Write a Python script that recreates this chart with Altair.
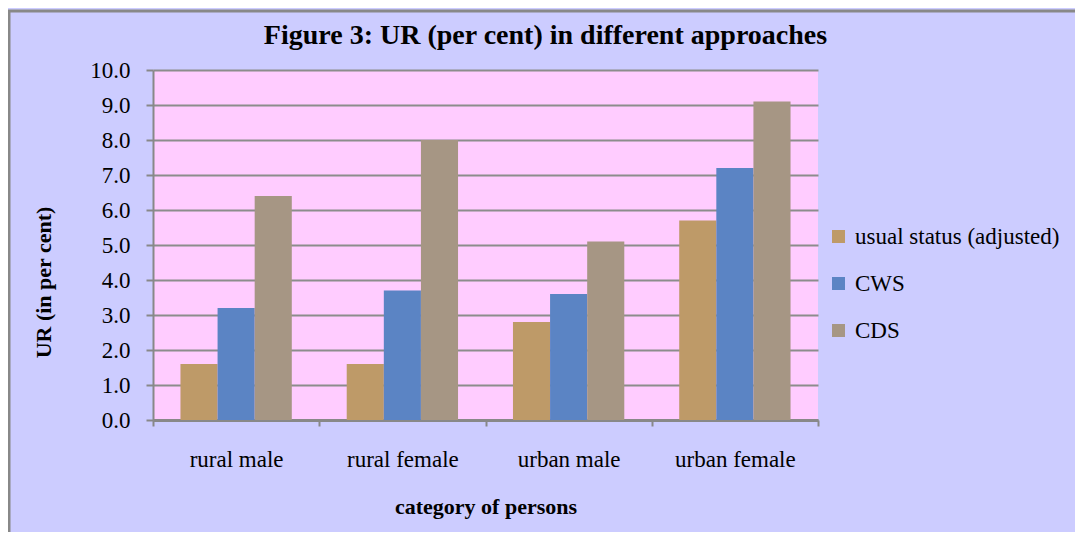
import altair as alt
import pandas as pd

categories = ["rural male", "rural female", "urban male", "urban female"]
series = ["usual status (adjusted)", "CWS", "CDS"]
usual = [1.6, 1.6, 2.8, 5.7]
cws = [3.2, 3.7, 3.6, 7.2]
cds = [6.4, 8.0, 5.1, 9.1]
y_ticks = [0, 1, 2, 3, 4, 5, 6, 7, 8, 9, 10]
colors = ["#BE9A68", "#5B84C4", "#A69684"]

rows = []
for i, c in enumerate(categories):
    for s, vals in zip(series, [usual, cws, cds]):
        rows.append({"category": c, "series": s, "value": vals[i]})
df = pd.DataFrame(rows)

FONT = "Liberation Serif"

bars = alt.Chart(df).mark_bar().encode(
    x=alt.X("category:N", sort=categories,
            scale=alt.Scale(paddingInner=0, paddingOuter=0),
            axis=alt.Axis(title="category of persons", labelAngle=0,
                          tickBand="extent", tickSize=6, tickColor="#888888",
                          tickWidth=2, domainColor="#888888", domainWidth=3,
                          labelFont=FONT, labelFontSize=23, labelColor="black",
                          labelBaseline="alphabetic", labelPadding=40,
                          titleFont=FONT, titleFontSize=22, titleFontWeight="bold",
                          titleColor="black", titleBaseline="alphabetic",
                          titleY=93)),
    xOffset=alt.XOffset("series:N", sort=series,
                        scale=alt.Scale(paddingInner=0, paddingOuter=0.74)),
    y=alt.Y("value:Q", scale=alt.Scale(domain=[0, 10], nice=False),
            axis=alt.Axis(title="UR (in per cent)", values=y_ticks, format=".1f",
                          tickSize=7, tickColor="#888888", tickWidth=2,
                          domainColor="#888888", domainWidth=2,
                          gridColor="#8C8C8C", gridWidth=2,
                          labelFont=FONT, labelFontSize=23, labelColor="black",
                          labelPadding=16,
                          titleFont=FONT, titleFontSize=22, titleFontWeight="bold",
                          titleColor="black", titleBaseline="alphabetic",
                          titleX=-103, titleY=212)),
    color=alt.Color("series:N", sort=series,
                    scale=alt.Scale(domain=series, range=colors),
                    legend=alt.Legend(title=None, orient="none", legendX=674,
                                      legendY=155, symbolType="square",
                                      symbolSize=169, symbolStrokeWidth=0,
                                      labelFont=FONT, labelFontSize=23,
                                      labelColor="black", labelOffset=5,
                                      labelLimit=400,
                                      rowPadding=23, padding=0)),
)

border = alt.Chart(pd.DataFrame({"a": [0]})).mark_rect(
    fill=None, stroke="#888888", strokeWidth=3, clip=False
).encode(
    x=alt.value(-144), x2=alt.value(2000),
    y=alt.value(-59), y2=alt.value(2000),
)

chart = alt.layer(border, bars).properties(
    width=665, height=350,
    autosize=alt.AutoSizeParams(type="none"),
    padding={"left": 145, "top": 62, "right": 257, "bottom": 112},
    background="#CCCCFF",
    title=alt.TitleParams(
        "Figure 3: UR (per cent) in different approaches",
        font=FONT, fontSize=28, fontWeight="bold", color="black",
        anchor="middle", frame="group", dx=60, baseline="alphabetic",
        offset=0, dy=62,
    ),
).configure_view(fill="#FFCCFF", stroke=None)

chart.save("out.html", embed_options={"renderer": "svg", "actions": False})
